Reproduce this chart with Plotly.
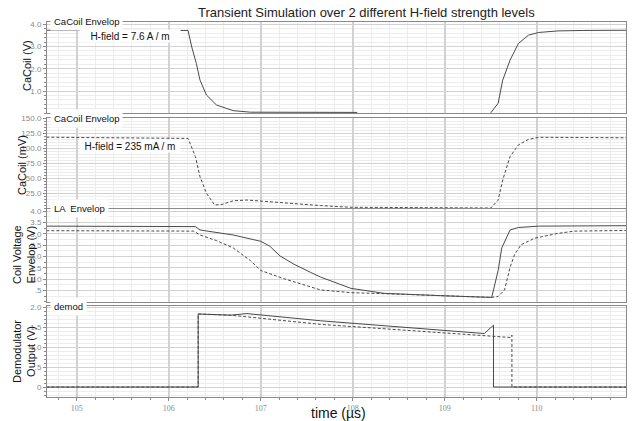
import plotly.graph_objects as go

# ---------------- data ----------------
# Panel 1: CaCoil envelope, H-field = 7.6 A/m (V)
p1_t = [104.67, 106.21, 106.25, 106.30, 106.34, 106.41, 106.52, 106.70, 106.89, 107.2, 107.6, 108.05,
        None,
        109.50, 109.58, 109.63, 109.71, 109.80, 109.91, 110.02, 110.23, 110.5, 110.97]
p1_v = [3.73, 3.72, 2.98, 2.24, 1.49, 0.82, 0.37, 0.12, 0.05, 0.04, 0.04, 0.04,
        None,
        0.02, 0.45, 1.49, 2.39, 3.13, 3.51, 3.63, 3.70, 3.72, 3.73]

# Panel 2: CaCoil envelope, H-field = 235 mA/m (mV)
p2_t = [104.67, 106.21, 106.29, 106.34, 106.41, 106.50, 106.58, 106.70, 106.85, 107.07, 107.65, 107.98,
        108.78, 109.50, 109.58, 109.63, 109.71, 109.80, 109.91, 110.02, 110.5, 110.97]
p2_v = [118, 116, 85.6, 52, 24.4, 5, 6, 12, 13.3, 10.5, 4, 1.2,
        0, 0, 13, 46.7, 85.6, 105, 114.4, 117.8, 117.5, 117]

# Panel 3: LA envelope (V), solid = 7.6 A/m, dashed = 235 mA/m
p3a_t = [104.67, 106.29, 106.34, 106.70, 107.0, 107.10, 107.21, 107.36, 107.54, 107.65, 107.98, 108.34,
         109.0, 109.51, 109.53, 109.58, 109.62, 109.69, 109.71, 109.80, 110.02, 110.97]
p3a_v = [3.34, 3.32, 3.17, 2.95, 2.67, 2.45, 2.02, 1.66, 1.30, 1.09, 0.59, 0.37,
         0.26, 0.19, 0.52, 1.38, 2.38, 3.02, 3.17, 3.28, 3.34, 3.36]
p3b_t = [104.67, 106.27, 106.34, 106.52, 106.70, 106.89, 107.0, 107.25, 107.65, 107.98, 108.52,
         109.50, 109.58, 109.65, 109.71, 109.76, 109.83, 109.98, 110.23, 110.41, 110.97]
p3b_v = [3.14, 3.12, 2.95, 2.70, 2.38, 1.81, 1.38, 1.02, 0.52, 0.40, 0.33,
         0.19, 0.23, 0.52, 1.52, 2.09, 2.52, 2.81, 3.02, 3.12, 3.15]

# Panel 4: demodulator output (V)
p4a_t = [104.67, 106.32, 106.32, 106.67, 106.85, 107.65, 109.43, 109.52, 109.53, 109.53, 110.97]
p4a_v = [0, 0, 1.83, 1.80, 1.84, 1.66, 1.34, 1.55, 1.55, 0, 0]
p4b_t = [104.67, 106.32, 106.32, 106.67, 107.65, 109.43, 109.72, 109.73, 109.73, 110.97]
p4b_v = [0, 0, 1.83, 1.80, 1.57, 1.27, 1.24, 1.30, 0, 0]

x_ticks = [105, 106, 107, 108, 109, 110]
y1_ticks = [1.0, 2.0, 3.0, 4.0]
y1_text = ["1.0", "2.0", "3.0", "4.0"]
y2_ticks = [25, 50, 75, 100, 125, 150]
y2_text = ["25.0", "50.0", "75.0", "100.0", "125.0", "150.0"]
y3_ticks = [0.5, 1.0, 1.5, 2.0, 2.5, 3.0, 3.5, 4.0]
y3_text = [".5", "1.0", "1.5", "2.0", "2.5", "3.0", "3.5", "4.0"]
y4_ticks = [0, 0.5, 1.0, 1.5, 2.0]
y4_text = ["0", ".5", "1.0", "1.5", "2.0"]

# ---------------- figure ----------------
W, H = 637, 421
M_T, M_B, M_L, M_R = 22, 24, 47, 11
PH = H - M_T - M_B
PW = W - M_L - M_R


def frac(py):
    return (H - M_B - py) / PH


def xfrac(px):
    return (px - M_L) / PW


LINE = "#4a4a4a"
MAJ = "#d2d2d2"
MIN = "#ededed"
BORDER = "#8a8a8a"
TICKF = dict(family="Liberation Sans, Arial", size=8, color="#8a8a8a")
DASH = "3px,2px"

fig = go.Figure()

traces = [
    (p1_t, p1_v, "solid", "x", "y"),
    (p2_t, p2_v, "dash", "x2", "y2"),
    (p3a_t, p3a_v, "solid", "x3", "y3"),
    (p3b_t, p3b_v, "dash", "x3", "y3"),
    (p4a_t, p4a_v, "solid", "x4", "y4"),
    (p4b_t, p4b_v, "dash", "x4", "y4"),
]
for t, v, dash, xa, ya in traces:
    fig.add_trace(go.Scatter(x=t, y=v, mode="lines", xaxis=xa, yaxis=ya,
                             line=dict(color=LINE, width=1, dash=DASH if dash == "dash" else "solid"),
                             connectgaps=False, showlegend=False, hoverinfo="skip"))

xr = [104.677, 110.97]
domains = [
    [frac(113.3), frac(22)],
    [frac(208), frac(118)],
    [frac(301.7), frac(208.5)],
    [frac(397), frac(306)],
]
yranges = [[0, 4.1], [0, 150], [0, 4.12], [-0.25, 2.03]]
yticks = [(y1_ticks, y1_text, 0.2), (y2_ticks, y2_text, 5), (y3_ticks, y3_text, 0.25), (y4_ticks, y4_text, 0.1)]

layout = dict(
    width=W, height=H,
    margin=dict(t=M_T, b=M_B, l=M_L, r=M_R),
    paper_bgcolor="white", plot_bgcolor="white",
    showlegend=False,
)
for i in range(4):
    sx = "" if i == 0 else str(i + 1)
    last = i == 3
    layout["xaxis" + sx] = dict(
        range=xr, domain=[0, 1], anchor="y" + sx, automargin=False,
        matches=None if i == 0 else "x",
        tickmode="array", tickvals=x_ticks, ticktext=[str(v) for v in x_ticks],
        showticklabels=last, ticks="outside" if last else "", ticklen=3, tickcolor=BORDER,
        tickfont=dict(family="Liberation Serif, Times New Roman", size=8, color="#8a8a8a"),
        showgrid=True, gridcolor=MAJ, gridwidth=1.5,
        minor=dict(dtick=0.2, tick0=105, showgrid=True, gridcolor=MIN, gridwidth=1,
                   ticks="outside" if last else "", ticklen=2, tickcolor=BORDER),
        showline=True, linecolor=BORDER, linewidth=1, mirror=True,
        zeroline=False, fixedrange=True,
    )
    tv, tt, mdt = yticks[i]
    layout["yaxis" + sx] = dict(
        range=yranges[i], domain=domains[i], anchor="x" + sx, automargin=False,
        tickmode="array", tickvals=tv, ticktext=tt, tickfont=TICKF,
        ticks="outside", ticklen=3, tickcolor=BORDER,
        showgrid=True, gridcolor=MAJ, gridwidth=1,
        minor=dict(dtick=mdt, tick0=0, showgrid=True, gridcolor=MIN, gridwidth=1,
                   ticks="outside", ticklen=2, tickcolor=BORDER),
        showline=True, linecolor=BORDER, linewidth=1, mirror=True,
        zeroline=False, fixedrange=True,
    )

fig.update_layout(**layout)

ann = []
# title
ann.append(dict(text="Transient Simulation over 2 different H-field strength levels",
                x=xfrac(366), y=frac(13), xref="paper", yref="paper",
                showarrow=False, font=dict(family="Liberation Sans, Arial", size=13, color="#222"),
                xanchor="center", yanchor="middle"))
# x-axis title
ann.append(dict(text="time (µs)", x=xfrac(338), y=frac(413), xref="paper", yref="paper",
                showarrow=False, font=dict(family="Liberation Sans, Arial", size=14, color="#111"),
                xanchor="center", yanchor="middle"))
# panel labels
for lbl, py in [("CaCoil Envelop", 21.5), ("CaCoil Envelop", 118.5), ("LA  Envelop", 208.5), ("demod", 306.5)]:
    ann.append(dict(text=lbl, x=xfrac(50), y=frac(py), xref="paper", yref="paper",
                    showarrow=False, font=dict(family="Liberation Sans, Arial", size=9.5, color="#111"),
                    xanchor="left", yanchor="middle", bgcolor="white", borderpad=3))
# H-field notes
for lbl, py in [("H-field = 7.6 A / m", 36.5), ("H-field = 235 mA / m", 146)]:
    ann.append(dict(text=lbl, x=xfrac(130), y=frac(py), xref="paper", yref="paper",
                    showarrow=False, font=dict(family="Liberation Sans, Arial", size=10, color="#111"),
                    xanchor="center", yanchor="middle", bgcolor="white", borderpad=1,
                    width=98, height=10))
# y-axis titles
for lbl, px, py in [("CaCoil (V)", 27, 66), ("CaCoil (mV)", 22, 165),
                    ("Coil Voltage<br>Envelop (V)", 24, 255), ("Demodulator<br>Output (V)", 24, 352)]:
    ann.append(dict(text=lbl, x=xfrac(px), y=frac(py), xref="paper", yref="paper",
                    showarrow=False, textangle=-90,
                    font=dict(family="Liberation Sans, Arial", size=11, color="#111"),
                    xanchor="center", yanchor="middle"))
fig.update_layout(annotations=ann)

fig.write_html("out.html", config={"displayModeBar": False},
               post_script="document.body.style.margin='0';document.body.style.padding='0';"
                           "document.body.style.overflow='hidden';")
